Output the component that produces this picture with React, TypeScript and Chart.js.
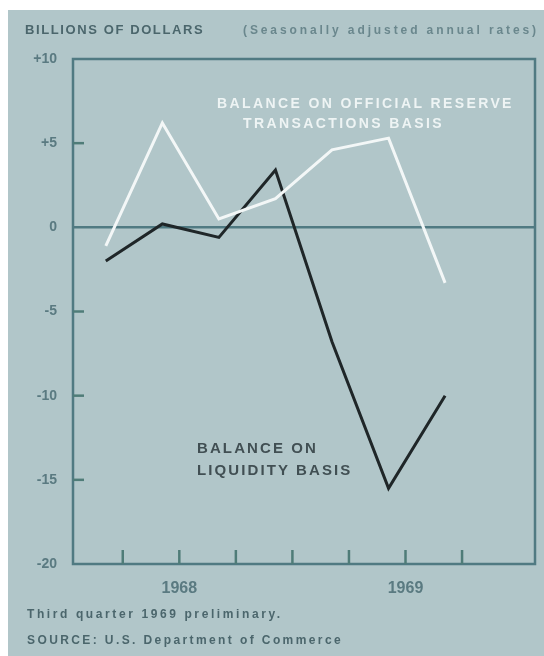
import React, { useEffect, useRef } from "react";
import { Chart, registerables } from "chart.js";

Chart.register(...registerables);

// ---- data ----
const quarters = ["1968 Q1", "1968 Q2", "1968 Q3", "1968 Q4", "1969 Q1", "1969 Q2", "1969 Q3"];
const officialReserve = [-1.1, 6.2, 0.5, 1.7, 4.6, 5.3, -3.3];
const liquidity = [-2.0, 0.2, -0.6, 3.4, -6.8, -15.5, -10.0];
const yTicks = [-20, -15, -10, -5, 0, 5, 10];
const yearLabels = ["1968", "1969"];
const yearLabelPos = [1.3, 5.3];
const quarterTickPos = [0.3, 1.3, 2.3, 3.3, 4.3, 5.3, 6.3];

// ---- style ----
const BG = "#b1c6c9";
const AXIS = "#507a82";
const TICKMARK = "#4f7c78";
const LABEL = "#5a7a81";
const TITLE = "#4b666c";
const FONT = "'Liberation Sans', Arial, sans-serif";

const framePlugin = {
  id: "frame",
  beforeDatasetsDraw(chart: any) {
    const { ctx, chartArea: a, scales } = chart;
    const xs = scales.x;
    const ys = scales.y;
    ctx.save();
    ctx.strokeStyle = AXIS;
    ctx.lineWidth = 2.5;
    ctx.strokeRect(a.left, a.top, a.right - a.left, a.bottom - a.top);
    ctx.strokeStyle = TICKMARK;
    yTicks
      .filter((v) => v > yTicks[0] && v < yTicks[yTicks.length - 1] && v !== 0)
      .forEach((v) => {
        const py = ys.getPixelForValue(v);
        ctx.beginPath();
        ctx.moveTo(a.left, py);
        ctx.lineTo(a.left + 11, py);
        ctx.stroke();
      });
    quarterTickPos.forEach((v) => {
      const px = xs.getPixelForValue(v);
      ctx.beginPath();
      ctx.moveTo(px, a.bottom);
      ctx.lineTo(px, a.bottom - 14);
      ctx.stroke();
    });
    ctx.restore();
  },
};

function ChartCanvas() {
  const ref = useRef<HTMLCanvasElement | null>(null);
  useEffect(() => {
    if (!ref.current) return;
    const chart = new Chart(ref.current, {
      type: "line",
      data: {
        datasets: [
          {
            label: "Balance on official reserve transactions basis",
            data: quarters.map((q, i) => ({ x: i, y: officialReserve[i] })),
            borderColor: "#f3f7f7",
            borderWidth: 3,
            pointRadius: 0,
            tension: 0,
          },
          {
            label: "Balance on liquidity basis",
            data: quarters.map((q, i) => ({ x: i, y: liquidity[i] })),
            borderColor: "#1f2628",
            borderWidth: 3,
            pointRadius: 0,
            tension: 0,
          },
        ],
      },
      options: {
        animation: false,
        responsive: false,
        maintainAspectRatio: false,
        layout: { padding: { left: 0, top: 49, right: 9, bottom: 0 } },
        plugins: { legend: { display: false }, tooltip: { enabled: false } },
        scales: {
          x: {
            type: "linear",
            min: -0.58,
            max: 7.59,
            afterBuildTicks: (scale: any) => {
              scale.ticks = yearLabelPos.map((v) => ({ value: v }));
            },
            afterFit: (scale: any) => {
              scale.height = 92;
            },
            ticks: {
              autoSkip: false,
              maxRotation: 0,
              padding: 15,
              color: LABEL,
              font: { family: FONT, size: 16, weight: "bold" },
              callback: (v: any) => {
                const idx = yearLabelPos.findIndex((p) => Math.abs(p - v) < 1e-6);
                return idx >= 0 ? yearLabels[idx] : "";
              },
            },
            grid: { display: false, drawTicks: false },
            border: { display: false },
          },
          y: {
            type: "linear",
            min: yTicks[0],
            max: yTicks[yTicks.length - 1],
            afterBuildTicks: (scale: any) => {
              scale.ticks = yTicks.map((v) => ({ value: v }));
            },
            afterFit: (scale: any) => {
              scale.width = 65;
            },
            ticks: {
              padding: 16,
              color: LABEL,
              font: { family: FONT, size: 14, weight: "bold" },
              callback: (v: any) => (v > 0 ? "+" + v : String(v)),
            },
            grid: {
              drawTicks: false,
              color: (c: any) => (c.tick && c.tick.value === 0 ? AXIS : "rgba(0,0,0,0)"),
              lineWidth: 2.5,
            },
            border: { display: false },
          },
        },
      },
      plugins: [framePlugin],
    });
    return () => chart.destroy();
  }, []);
  return <canvas ref={ref} width={536} height={646} style={{ position: "absolute", left: 0, top: 0 }} />;
}

const txt = (left: number, top: number, extra: React.CSSProperties, s: string) => (
  <div
    style={{
      position: "absolute",
      left,
      top,
      lineHeight: "16px",
      whiteSpace: "nowrap",
      fontFamily: FONT,
      fontWeight: "bold",
      ...extra,
    }}
  >
    {s}
  </div>
);

export default function App() {
  return (
    <div
      style={{
        position: "absolute",
        left: 8,
        top: 10,
        width: 536,
        height: 646,
        background: BG,
        overflow: "hidden",
      }}
    >
      <ChartCanvas />
      {txt(17, 12, { fontSize: 13, letterSpacing: "1.6px", color: TITLE }, "BILLIONS OF DOLLARS")}
      {txt(235, 12, { fontSize: 12, letterSpacing: "2.9px", color: "#6a878d" }, "(Seasonally adjusted annual rates)")}
      {txt(209, 85, { fontSize: 14, letterSpacing: "2.4px", color: "#eef4f4" }, "BALANCE ON OFFICIAL RESERVE")}
      {txt(235, 105, { fontSize: 14, letterSpacing: "2.4px", color: "#eef4f4" }, "TRANSACTIONS BASIS")}
      {txt(189, 430, { fontSize: 15, letterSpacing: "2.1px", color: "#414f53" }, "BALANCE ON")}
      {txt(189, 452, { fontSize: 15, letterSpacing: "2.1px", color: "#414f53" }, "LIQUIDITY BASIS")}
      {txt(19, 596, { fontSize: 12, letterSpacing: "2.6px", color: TITLE }, "Third quarter 1969 preliminary.")}
      {txt(19, 622, { fontSize: 12, letterSpacing: "2.4px", color: TITLE }, "SOURCE: U.S. Department of Commerce")}
    </div>
  );
}
